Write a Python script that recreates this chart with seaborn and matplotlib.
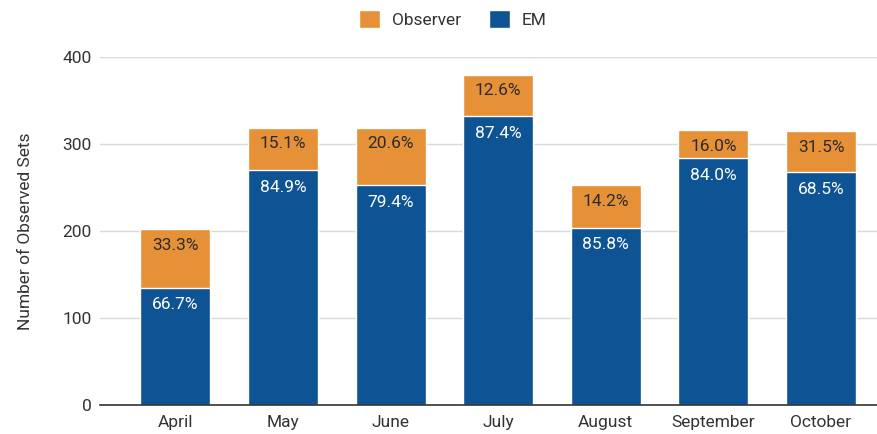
import pandas as pd
import seaborn as sns
import matplotlib.pyplot as plt
from matplotlib.patches import Patch

# Valores
months = ["April", "May", "June", "July", "August", "September", "October"]
em_sets = [135, 270, 253, 332, 204, 284, 268]
observer_sets = [67, 49, 66, 48, 49, 32, 47]
em_labels = ["66.7%", "84.9%", "79.4%", "87.4%", "85.8%", "84.0%", "68.5%"]
observer_labels = ["33.3%", "15.1%", "20.6%", "12.6%", "14.2%", "16.0%", "31.5%"]

ORANGE = "#E69138"
BLUE = "#0E5394"

df = pd.DataFrame({"month": months, "em": em_sets, "observer": observer_sets})
df["total"] = df["em"] + df["observer"]

sns.set_style("white")
plt.rcParams["font.family"] = ["Roboto", "DejaVu Sans"]

fig = plt.figure(figsize=(8.77, 4.34), dpi=100)
ax = fig.add_axes([100 / 877, 1 - 405 / 434, 1 - 100 / 877, (405 - 57.3) / 434])

sns.barplot(data=df, x="month", y="total", color=ORANGE, width=0.65,
            saturation=1, ax=ax)
sns.barplot(data=df, x="month", y="em", color=BLUE, width=0.65,
            saturation=1, ax=ax)

# etiquetas dentro de cada segmento
for i, row in df.iterrows():
    ax.annotate(observer_labels[i], (i, row["total"]), xytext=(0, -16),
                textcoords="offset pixels", ha="center", va="center",
                fontsize=12.5, color="#2b2b2b")
    ax.annotate(em_labels[i], (i, row["em"]), xytext=(0, -17),
                textcoords="offset pixels", ha="center", va="center",
                fontsize=12.5, color="white")

ax.set_ylim(0, 400)
ax.set_xlim(-0.7, 6.52)
ax.set_yticks([0, 100, 200, 300, 400])
ax.yaxis.grid(True, color="#d9d9d9", linewidth=1)
ax.set_axisbelow(True)
for s in ["top", "right", "left"]:
    ax.spines[s].set_visible(False)
ax.spines["bottom"].set_color("#333333")
ax.spines["bottom"].set_linewidth(1.2)
ax.tick_params(axis="both", length=0, labelsize=12.5, labelcolor="#333333")
ax.tick_params(axis="x", pad=7)
ax.tick_params(axis="y", pad=6)
ax.set_xlabel("")
ax.set_ylabel("Number of Observed Sets", fontsize=12.5, color="#333333", labelpad=21)

handles = [Patch(facecolor=ORANGE, label="Observer"), Patch(facecolor=BLUE, label="EM")]
fig.legend(handles=handles, loc="center", bbox_to_anchor=(453 / 877, 1 - 19 / 434),
           ncol=2, frameon=False, fontsize=12.5, handlelength=1.2, handleheight=1.2,
           handletextpad=0.7, columnspacing=1.6, labelcolor="#333333")

plt.savefig("out.png", dpi=100)
